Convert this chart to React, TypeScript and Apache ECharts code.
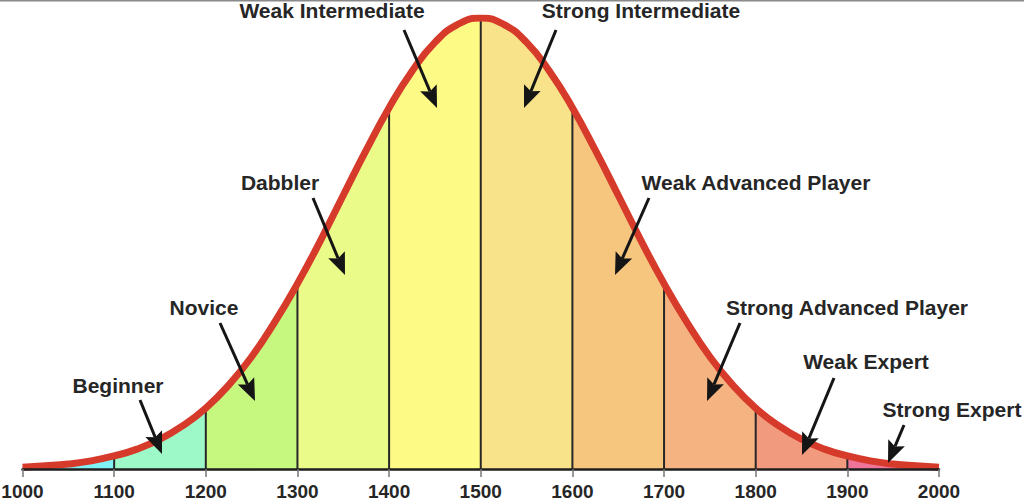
import React, { useEffect, useRef } from "react";
import * as echarts from "echarts";

const ratings = [
  1000, 1025, 1050, 1075, 1100, 1125, 1150, 1175, 1200, 1225, 1250, 1275, 1300, 1325, 1350, 1375, 1400,
  1425, 1450, 1475, 1500, 1525, 1550, 1575, 1600, 1625, 1650, 1675, 1700, 1725, 1750, 1775, 1800, 1825,
  1850, 1875, 1900, 1925, 1950, 1975, 2000,
];
const heights = [
  0.4, 0.7, 1.1, 1.8, 2.9, 4.4, 6.6, 9.6, 13.5, 18.6, 24.9, 32.5, 41.1, 50.6, 60.7, 70.7, 80.1, 88.2,
  94.6, 98.6, 100, 98.6, 94.6, 88.2, 80.1, 70.7, 60.7, 50.6, 41.1, 32.5, 24.9, 18.6, 13.5, 9.6, 6.6, 4.4,
  2.9, 1.8, 1.1, 0.7, 0.4,
];
const bandStarts = [1000, 1100, 1200, 1300, 1400, 1500, 1600, 1700, 1800, 1900];
const bandColors = [
  "#80f2f6", "#9ef9c8", "#c6f880", "#eafb8a", "#fdfb86",
  "#f9e38a", "#f6c67e", "#f4b381", "#f29a7d", "#ee7499",
];
const dividers = [1100, 1200, 1300, 1400, 1500, 1600, 1700, 1800, 1900];
const labels = [
  "Weak Intermediate", "Strong Intermediate", "Dabbler", "Weak Advanced Player", "Novice",
  "Strong Advanced Player", "Beginner", "Weak Expert", "Strong Expert",
];

// annotation layout (pixels): text centre, arrow start, arrow tip
const annot = [
  { t: [332, 10], a: [404, 30], b: [437, 108] },
  { t: [641, 10], a: [556, 30], b: [524, 108] },
  { t: [280, 182], a: [313, 198], b: [345, 275] },
  { t: [756, 182], a: [649, 198], b: [615, 275] },
  { t: [204, 307], a: [220, 323], b: [255, 401] },
  { t: [847, 307], a: [740, 323], b: [707, 401] },
  { t: [118, 385], a: [140, 400], b: [162, 454] },
  { t: [866, 361], a: [834, 378], b: [802, 455] },
  { t: [952, 409], a: [904, 425], b: [888, 463] },
];

const FONT = "'Liberation Sans', Arial, sans-serif";

function arrow(a: number[], b: number[]) {
  const dx = b[0] - a[0];
  const dy = b[1] - a[1];
  const len = Math.sqrt(dx * dx + dy * dy);
  const ux = dx / len;
  const uy = dy / len;
  const hl = 22;
  const hw = 9;
  const bx = b[0] - ux * hl;
  const by = b[1] - uy * hl;
  return [
    {
      type: "line",
      shape: { x1: a[0], y1: a[1], x2: bx + ux * 4, y2: by + uy * 4 },
      style: { stroke: "#151515", lineWidth: 3 },
      z: 100,
    },
    {
      type: "polygon",
      shape: {
        points: [
          [b[0], b[1]],
          [bx - uy * hw, by + ux * hw],
          [bx + ux * 4, by + uy * 4],
          [bx + uy * hw, by - ux * hw],
        ],
      },
      style: { fill: "#151515" },
      z: 100,
    },
  ];
}

export default function App() {
  const ref = useRef<HTMLDivElement>(null);
  useEffect(() => {
    if (!ref.current) return;
    const chart = echarts.init(ref.current, undefined, { renderer: "svg" });
    const pts = ratings.map((r, i) => [r, heights[i]]);
    const bandSeries = bandStarts.map((s, i) => ({
      type: "line",
      data: pts.filter((p) => p[0] >= s && p[0] <= s + 100),
      smooth: true,
      symbol: "none",
      lineStyle: { width: 0 },
      areaStyle: { color: bandColors[i], opacity: 1 },
      z: 1,
      silent: true,
    }));
    const graphics: any[] = [
      { type: "line", shape: { x1: 0, y1: 0.75, x2: 1024, y2: 0.75 }, style: { stroke: "#8a8a8a", lineWidth: 1.5 } },
    ];
    annot.forEach((an, i) => {
      graphics.push({
        type: "text",
        x: an.t[0],
        y: an.t[1],
        style: {
          text: labels[i],
          font: `bold 21px ${FONT}`,
          fill: "#262626",
          textAlign: "center",
          textVerticalAlign: "middle",
        },
        z: 100,
      });
      graphics.push(...arrow(an.a, an.b));
    });
    chart.setOption({
      animation: false,
      backgroundColor: "#ffffff",
      grid: { left: 22.5, right: 85, top: 18, bottom: 34, containLabel: false, outerBoundsMode: "none" },
      xAxis: {
        type: "value",
        min: 1000,
        max: 2000,
        interval: 100,
        axisLine: { show: true, lineStyle: { color: "#1e1e1e", width: 2.5 } },
        axisTick: { show: true, length: 8, lineStyle: { color: "#777", width: 1.5 } },
        axisLabel: {
          color: "#262626",
          fontSize: 19,
          fontWeight: "bold",
          fontFamily: FONT,
          margin: 13,
          formatter: (v: number) => String(v),
        },
        splitLine: { show: false },
        z: 10,
      },
      yAxis: { type: "value", min: 0, max: 100, show: false, splitLine: { show: false } },
      series: [
        ...bandSeries,
        {
          type: "bar",
          data: dividers.map((d) => [d, heights[ratings.indexOf(d)]]),
          barWidth: 2,
          itemStyle: { color: "#262626" },
          z: 3,
          silent: true,
        },
        {
          type: "line",
          data: pts,
          smooth: true,
          symbol: "none",
          lineStyle: { color: "#d63a2b", width: 7 },
          z: 5,
          silent: true,
        },
      ],
      graphic: graphics,
    });
    return () => chart.dispose();
  }, []);
  return (
    <div
      ref={ref}
      style={{ position: "fixed", left: 0, top: 0, width: 1024, height: 503 }}
    />
  );
}
